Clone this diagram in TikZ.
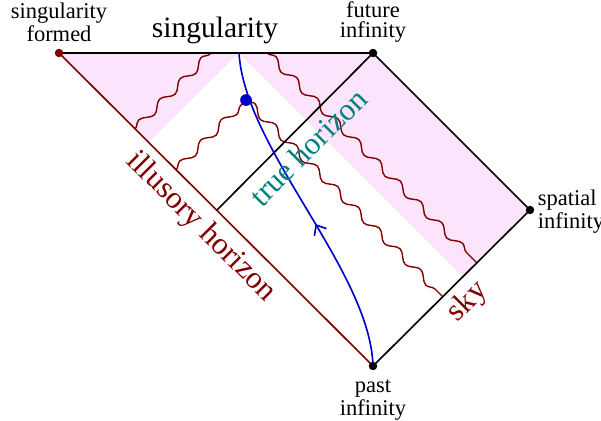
\documentclass[tikz,border=0pt]{standalone}
\usepackage{fontspec}
\setmainfont{Liberation Serif}
\usetikzlibrary{arrows.meta, decorations.pathmorphing, decorations.markings}

\definecolor{horizonred}{RGB}{128,0,0}
\definecolor{horizonteal}{RGB}{0,128,128}
\definecolor{skypink}{RGB}{252,228,252}
\definecolor{worldblue}{RGB}{0,0,205}

\tikzset{
    dot/.style={circle, fill, inner sep=0pt, minimum size=3.6pt},
    wave/.style={horizonred, line width=0.6pt, decorate,
        decoration={snake, amplitude=1.6pt, segment length=12.5pt}},
    smalllabel/.style={align=center, inner sep=0pt, font=\fontsize{9.6}{8.6}\selectfont},
    biglabel/.style={inner sep=0pt, font=\fontsize{13.3}{15}\selectfont},
}

\begin{document}
\begin{tikzpicture}[x=0.015cm, y=0.015cm, line width=0.7pt]
    \useasboundingbox (0,0) rectangle (601,420);
    % Corners of the diagram
    \coordinate (sf) at (59,367);
    \coordinate (fi) at (373,367);
    \coordinate (si) at (530,210);
    \coordinate (pi) at (373,54);
    \coordinate (end) at (239,367);
    \coordinate (lcorner) at (148.5,277.5);
    \coordinate (rcorner) at (462.5,143.5);
    \coordinate (th) at (217,210);
    \coordinate (obs) at (246,320);
    % Draw shaded regions
    \fill[skypink] (sf) -- (end) -- (lcorner) -- cycle;
    \fill[skypink] (end) -- (fi) -- (si) -- (rcorner) -- cycle;
    % Draw light rays
    \coordinate (wa) at (135,291);
    \coordinate (wb) at (211,367);
    \coordinate (wc) at (176,250);
    \coordinate (wd) at (443,123);
    \coordinate (we) at (267,367);
    \coordinate (wf) at (476.5,157.5);
    \draw[wave] (wa) -- (wb);
    \draw[wave] (wc) -- (obs);
    \draw[wave] (obs) -- (wd);
    \draw[wave] (we) -- (wf);
    % Draw boundary
    \draw (sf) -- (fi) -- (si) -- (pi);
    \draw[horizonred] (pi) -- (sf);
    \draw (th) -- (fi);
    % Draw observer
    \draw[worldblue, postaction=decorate,
        decoration={markings, mark=at position 0.45 with {\arrow{Straight Barb[length=3.5pt, width=6pt]}}}]
        (pi) .. controls (370,150) and (245,270) .. (end);
    % Draw points
    \node[dot, horizonred] (sfdot) at (sf) {};
    \node[dot] (fidot) at (fi) {};
    \node[dot] (sidot) at (si) {};
    \node[dot] (pidot) at (pi) {};
    \node[dot, worldblue, minimum size=5pt] (obsdot) at (obs) {};
    % Draw labels
    \node[smalllabel, anchor=south] (sflabel) at (59,377) {singularity\\formed};
    \node[smalllabel, anchor=south] (filabel) at (373,377) {future\\infinity};
    \node[smalllabel, align=left, anchor=west] (silabel) at (537,208) {spatial\\infinity};
    \node[smalllabel, anchor=north] (pilabel) at (373,41) {past\\infinity};
    \node[inner sep=0pt, font=\fontsize{12.6}{15}\selectfont, anchor=base] (slabel) at (215,383) {singularity};
    \node[biglabel, horizonred, rotate=-45] (illabel) at (201,193) {illusory horizon};
    \node[biglabel, horizonteal, rotate=45] (thlabel) at (308,273) {true horizon};
    \node[biglabel, horizonred, rotate=45] (skylabel) at (468,118) {sky};
\end{tikzpicture}
\end{document}
